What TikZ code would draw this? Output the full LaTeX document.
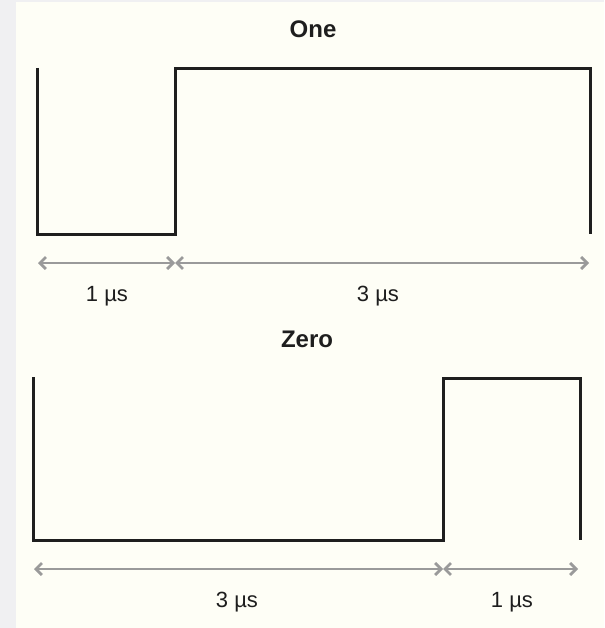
\documentclass[tikz,border=0pt]{standalone}
\usepackage{fontspec}
\setmainfont{Liberation Sans}
\usetikzlibrary{arrows.meta}
\usetikzlibrary{positioning}

\definecolor{paper}{HTML}{FEFEF6}
\definecolor{frame}{HTML}{F0F0F2}
\definecolor{wave}{HTML}{1E1E1E}
\definecolor{span}{HTML}{9A9A9A}

\begin{document}
\begin{tikzpicture}[x=1pt, y=-1pt,
    signal/.style={wave, line width=3pt, line join=miter}, % Style for the pulse lines
    timespan/.style={span, line width=2.8pt,
        {Straight Barb[length=6pt,width=12pt]}-{Straight Barb[length=6pt,width=12pt]}}, % Style for the time arrows
    title/.style={font=\fontsize{24}{28}\selectfont\bfseries, text=wave, anchor=base}, % Style for One / Zero
    duration/.style={font=\fontsize{22}{26}\selectfont, text=wave, anchor=base} % Style for the time labels
]

% Background
\fill[frame] (0,0) rectangle (604,628);
\fill[paper] (16,2) rectangle (604,628);
\useasboundingbox (0,0) rectangle (604,628);

% --- One ---
\node[title] (one) at (313,38) {One};

% Pulse: 1 us low, 3 us high
\draw[signal] (37,68) -- (37,234) -- (175,234) -- (175,69) -- (590,69) -- (590,234);

% Define coordinates for the time arrows
\coordinate (one-start) at (38,263);
\coordinate (one-edge) at (175,263);
\coordinate (one-end) at (589,263);

\draw[timespan] (one-start) -- (one-edge);
\draw[timespan] (one-edge) -- (one-end);

\node[duration] (one-low) at (107,301) {1 µs};
\node[duration] (one-high) at (378,301) {3 µs};

% --- Zero ---
\node[title] (zero) at (307,347) {Zero};

% Pulse: 3 us low, 1 us high
\draw[signal] (33,377) -- (33,540) -- (443,540) -- (443,378) -- (580,378) -- (580,540);

% Define coordinates for the time arrows
\coordinate (zero-start) at (34,569);
\coordinate (zero-edge) at (443,569);
\coordinate (zero-end) at (578,569);

\draw[timespan] (zero-start) -- (zero-edge);
\draw[timespan] (zero-edge) -- (zero-end);

\node[duration] (zero-low) at (237,607) {3 µs};
\node[duration] (zero-high) at (512,607) {1 µs};

\end{tikzpicture}
\end{document}
